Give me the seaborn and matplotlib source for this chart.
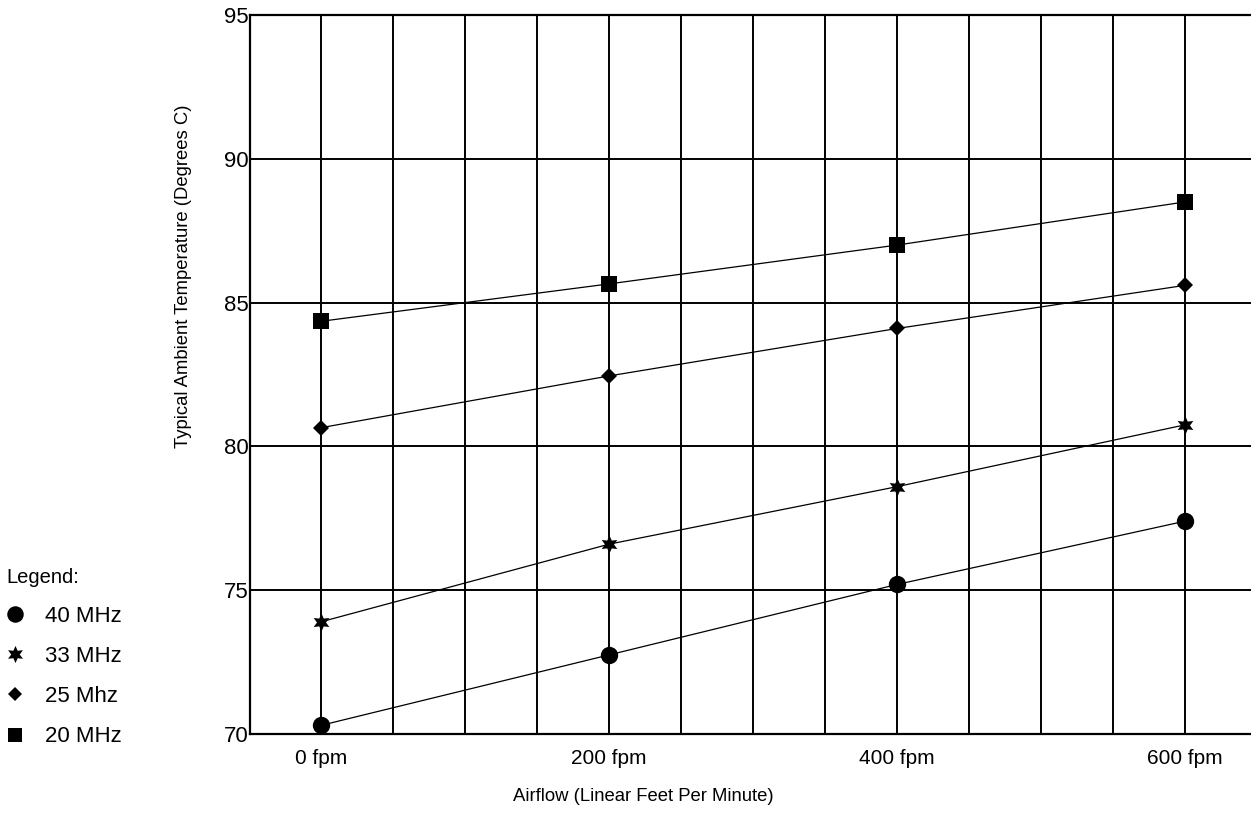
import pandas as pd
import numpy as np
import seaborn as sns
import matplotlib.pyplot as plt
from matplotlib.lines import Line2D
from matplotlib.ticker import MultipleLocator

# values
airflow = [0, 200, 400, 600]
tick_labels = ["0 fpm", "200 fpm", "400 fpm", "600 fpm"]
series_names = ["40 MHz", "33 MHz", "25 Mhz", "20 MHz"]
temp_40 = [70.3, 72.75, 75.2, 77.4]
temp_33 = [73.9, 76.6, 78.6, 80.75]
temp_25 = [80.65, 82.45, 84.1, 85.6]
temp_20 = [84.35, 85.65, 87.0, 88.5]

rows = []
for name, vals in zip(series_names, [temp_40, temp_33, temp_25, temp_20]):
    for x, y in zip(airflow, vals):
        rows.append({"airflow": x, "temp": y, "series": name})
df = pd.DataFrame(rows)

sns.set_style("white")
plt.rcParams["font.family"] = ["Liberation Sans", "DejaVu Sans"]
plt.rcParams["text.color"] = "black"
plt.rcParams["axes.labelcolor"] = "black"
plt.rcParams["xtick.color"] = "black"
plt.rcParams["ytick.color"] = "black"

fig = plt.figure(figsize=(12.51, 8.22), dpi=100)
ax = fig.add_axes([250 / 1251, 88 / 822, 1001 / 1251, 719 / 822])

markers = {"40 MHz": "o", "33 MHz": (6, 1, 0), "25 Mhz": "D", "20 MHz": "s"}
sizes = {"40 MHz": 12.5, "33 MHz": 13, "25 Mhz": 8, "20 MHz": 11}
black = {n: "black" for n in series_names}

sns.lineplot(data=df, x="airflow", y="temp", hue="series", style="series",
             markers=markers, dashes=False, palette=black, linewidth=0.9,
             markeredgewidth=0, legend=False, ax=ax, zorder=3)
for line, name in zip(ax.lines, series_names):
    line.set_markersize(sizes[name])

ax.set_xlim(-49.3, 645.8)
ax.set_ylim(70, 95)
ax.set_xticks(airflow)
ax.set_xticklabels(tick_labels)
ax.xaxis.set_minor_locator(MultipleLocator(50))
ax.set_yticks([70, 75, 80, 85, 90, 95])
ax.grid(True, which="both", color="black", linewidth=1.4)
ax.tick_params(axis="both", which="both", length=0)
ax.tick_params(axis="x", pad=11, labelsize=15)
ax.tick_params(axis="y", pad=1, labelsize=16)

for side in ["left", "top", "bottom"]:
    ax.spines[side].set_color("black")
    ax.spines[side].set_linewidth(1.6)
ax.spines["right"].set_visible(False)

ax.set_xlabel("Airflow (Linear Feet Per Minute)", fontsize=13.3)
ax.xaxis.set_label_coords((643 - 250) / 1001, -0.075)
ax.set_ylabel("Typical Ambient Temperature (Degrees C)", fontsize=13.3)
ax.yaxis.set_label_coords(-0.058, 0.636)

# legend on the far left
handles = [Line2D([], [], color="black", marker=markers[n], linestyle="none",
                  markersize=sizes[n] * 0.95, markeredgewidth=0)
           for n in series_names]
leg = fig.legend(handles, series_names, title="Legend:", loc="upper left",
                 bbox_to_anchor=(-0.002, 1 - 559 / 822), frameon=False,
                 fontsize=16, title_fontsize=14.5, handlelength=0.8,
                 handletextpad=0.95, labelspacing=0.86, borderaxespad=0)
leg._legend_box.align = "left"

fig.savefig("out.png", dpi=100)
